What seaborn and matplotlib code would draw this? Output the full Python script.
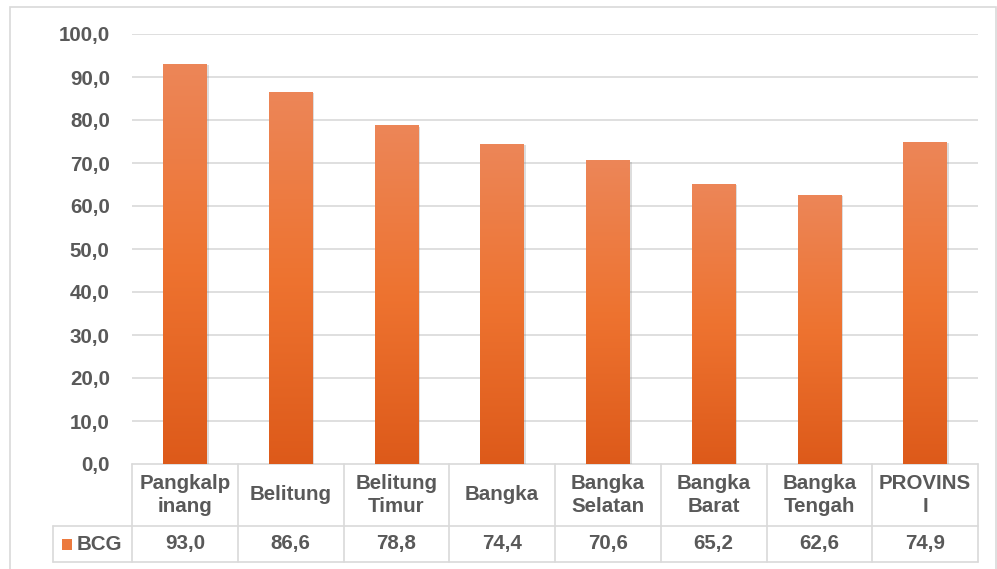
import numpy as np
import pandas as pd
import matplotlib
matplotlib.use("Agg")
import matplotlib.pyplot as plt
import matplotlib.patheffects as pe
from matplotlib.colors import LinearSegmentedColormap
from matplotlib.patches import Rectangle
from matplotlib.lines import Line2D
import seaborn as sns

# donnees
wilayah = ["Pangkalp\ninang", "Belitung", "Belitung\nTimur", "Bangka",
           "Bangka\nSelatan", "Bangka\nBarat", "Bangka\nTengah", "PROVINS\nI"]
bcg = [93.0, 86.6, 78.8, 74.4, 70.6, 65.2, 62.6, 74.9]
seri = "BCG"
yticks = np.arange(0, 101, 10)

df = pd.DataFrame({"wilayah": wilayah, "nilai": bcg})

sns.set_theme(style="white")
plt.rcParams["font.family"] = ["Liberation Sans", "DejaVu Sans"]
plt.rcParams["font.weight"] = "bold"
txt = "#595959"
grid = "#d9d9d9"
fs = 14.8

fig = plt.figure(figsize=(9.97, 5.69), dpi=100)
ax = fig.add_axes([132 / 997, 105 / 569, 846 / 997, 430 / 569])

sns.barplot(data=df, x="wilayah", y="nilai", color="#ED7D31", width=0.41,
            ax=ax, zorder=3)

# degradasi warna oranye pada tiap batang
cmap = LinearSegmentedColormap.from_list("oranye", ["#DD5A1A", "#EE7330", "#EC8658"])
grad = np.linspace(0, 1, 256).reshape(-1, 1)
for p in ax.patches:
    p.set_edgecolor("none")
    p.set_path_effects([pe.SimplePatchShadow(offset=(1.5, -1), shadow_rgbFace="#8f8f8f", alpha=0.3),
                        pe.Normal()])
    x0, w, h = p.get_x(), p.get_width(), p.get_height()
    im = ax.imshow(grad, extent=[x0, x0 + w, 0, h], origin="lower", aspect="auto",
                   cmap=cmap, zorder=4)
    im.set_clip_path(p)

ax.set_xlim(-0.5, 7.5)
ax.set_ylim(0, 100)
ax.set_yticks(yticks)
ax.set_yticklabels([f"{v:.1f}".replace(".", ",") for v in yticks],
                   fontsize=fs, color=txt, fontweight="bold")
ax.tick_params(axis="y", length=0, pad=16)
ax.set_xticks([])
ax.set_xlabel("")
ax.set_ylabel("")
for v in yticks[1:]:
    ax.axhline(v, color=grid, lw=1.2, zorder=1)
for s in ax.spines.values():
    s.set_visible(False)

# tabel data di bawah grafik
tr = ax.get_xaxis_transform()
hb = -62 / 430
db = -98 / 430
kiri = -0.5 - 79 / 105.75
kw = dict(transform=tr, color=grid, lw=1.2, clip_on=False)
ax.add_line(Line2D([-0.5, 7.5], [0, 0], **kw))
ax.add_line(Line2D([kiri, 7.5], [hb, hb], **kw))
ax.add_line(Line2D([kiri, 7.5], [db, db], **kw))
ax.add_line(Line2D([kiri, kiri], [hb, db], **kw))
for i in range(9):
    ax.add_line(Line2D([i - 0.5, i - 0.5], [0, db], **kw))

for i, (lab, v) in enumerate(zip(wilayah, bcg)):
    ax.text(i, hb / 2, lab, transform=tr, ha="center", va="center", fontsize=fs,
            color=txt, fontweight="bold", linespacing=1.3)
    ax.text(i, (hb + db) / 2, f"{v:.1f}".replace(".", ","), transform=tr,
            ha="center", va="center", fontsize=fs, color=txt, fontweight="bold")

kx0 = -0.5 + (62 - 132) / 105.75
kx1 = -0.5 + (72 - 132) / 105.75
kyc = (hb + db) / 2
kh = 11 / 430
key = Rectangle((kx0, kyc - kh / 2), kx1 - kx0, kh, transform=tr, color="#EC7A3E",
                clip_on=False, lw=0)
ax.add_patch(key)
ax.text(-0.5 + (77 - 132) / 105.75, kyc, seri, transform=tr, ha="left", va="center",
        fontsize=fs, color=txt, fontweight="bold")

# bingkai luar
fig.patches.append(Rectangle((10 / 997, -0.01), 986 / 997, 1 - 7 / 569 + 0.01,
                             transform=fig.transFigure, fill=False,
                             edgecolor=grid, lw=1.2))

fig.savefig("out.png", dpi=100)
